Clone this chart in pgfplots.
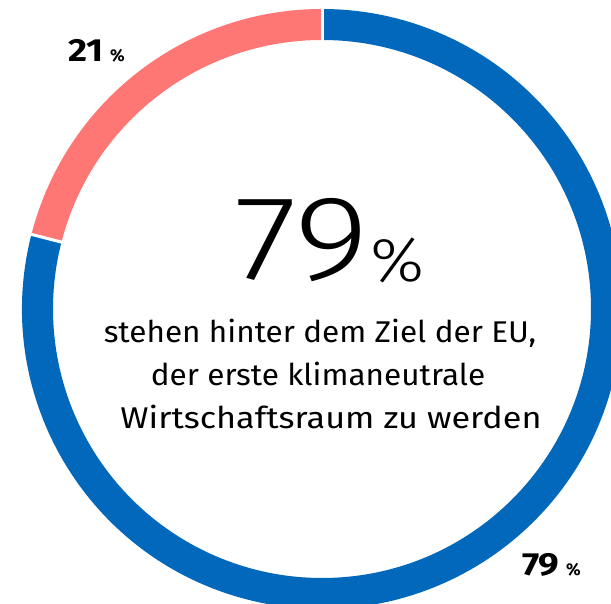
\documentclass[border=0pt]{standalone}
\usepackage{fontspec}
\setmainfont{Fira Sans}
\newfontfamily\lightfont{Fira Sans Light}
\usepackage{pgfplots}
\pgfplotsset{compat=1.18}
\usepackage{pgfplotstable}
\definecolor{cblue}{RGB}{2,104,188}
\definecolor{csalmon}{RGB}{255,119,117}
\pgfplotstableread{
label value
Zustimmung 79
Ablehnung 21
}\datatable
\pgfplotstablegetelem{0}{value}\of\datatable \let\valA\pgfplotsretval
\pgfplotstablegetelem{1}{value}\of\datatable \let\valB\pgfplotsretval
\begin{document}
\begin{tikzpicture}
\begin{axis}[x=1pt,y=1pt,xmin=0,xmax=611,ymin=0,ymax=604,axis lines=none,clip=true,scale only axis]
\pgfmathsetmacro{\aB}{90+3.6*\valB}
\pgfmathsetmacro{\aE}{\aB+3.6*\valA}
\fill[csalmon] (axis cs:322,295) ++(90:300) arc[start angle=90,end angle=\aB,radius=300] -- ++(\aB:-31) arc[start angle=\aB,end angle=90,radius=269] -- cycle;
\fill[cblue] (axis cs:322,295) ++(\aB:300) arc[start angle=\aB,end angle=\aE,radius=300] -- ++(\aE:-31) arc[start angle=\aE,end angle=\aB,radius=269] -- cycle;
\draw[white,line width=3pt] (axis cs:322,295) ++(90:260) -- ++(90:50);
\draw[white,line width=3pt] (axis cs:322,295) ++(\aB:260) -- ++(\aB:50);
\node[anchor=base west,inner sep=0pt,font=\lightfont\fontsize{120}{120}\selectfont] at (axis cs:234,324) {\scalebox{1.2}[1]{\valA}};
\node[anchor=base west,inner sep=0pt,font=\lightfont\fontsize{62}{62}\selectfont] at (axis cs:370,322) {\scalebox{1.1}[1]{\%}};
\node[anchor=base,inner sep=0pt,font=\fontsize{30}{30}\selectfont] at (axis cs:320,261) {\scalebox{1.05}[1]{stehen hinter dem Ziel der EU,}};
\node[anchor=base,inner sep=0pt,font=\fontsize{30}{30}\selectfont] at (axis cs:318,218) {\scalebox{1.05}[1]{der erste klimaneutrale}};
\node[anchor=base,inner sep=0pt,font=\fontsize{30}{30}\selectfont] at (axis cs:331,175) {\scalebox{1.14}[1]{Wirtschaftsraum zu werden}};
\node[anchor=base west,inner sep=0pt,font=\bfseries\fontsize{32}{32}\selectfont] at (axis cs:68,542) {\scalebox{1.15}[1]{\valB}};
\node[anchor=base west,inner sep=0pt,font=\bfseries\fontsize{17}{17}\selectfont] at (axis cs:110,542) {\%};
\node[anchor=base west,inner sep=0pt,font=\bfseries\fontsize{32}{32}\selectfont] at (axis cs:522,28) {\scalebox{1.15}[1]{\valA}};
\node[anchor=base west,inner sep=0pt,font=\bfseries\fontsize{17}{17}\selectfont] at (axis cs:566,28) {\%};
\end{axis}
\end{tikzpicture}
\end{document}
